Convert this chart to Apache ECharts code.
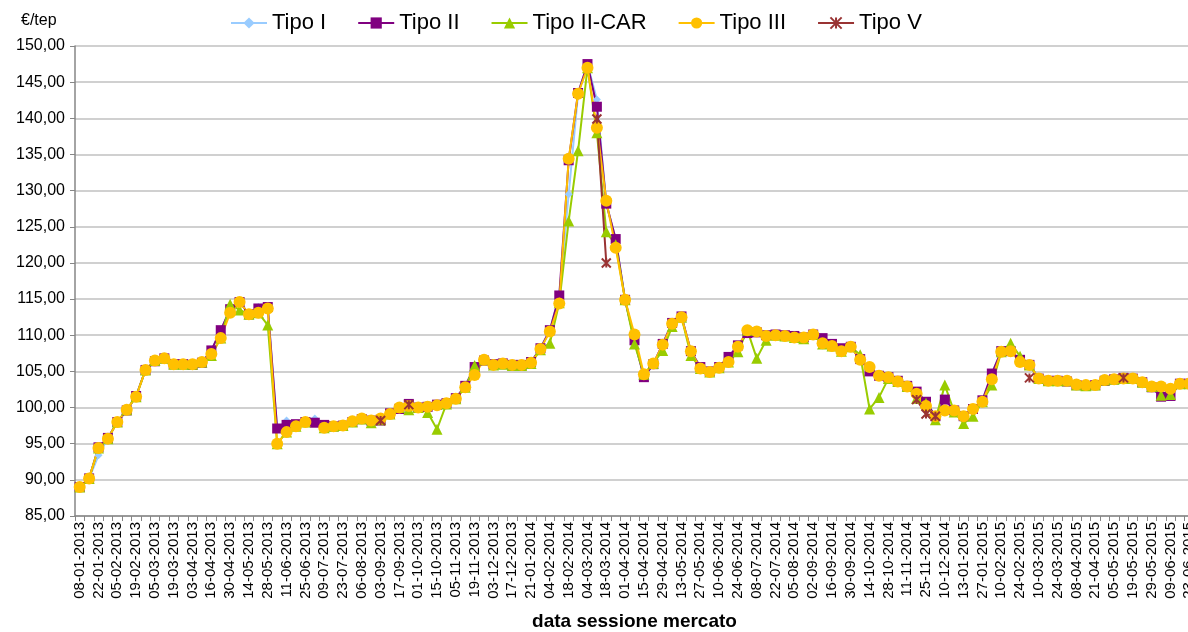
<!DOCTYPE html>
<html>
<head>
<meta charset="utf-8">
<title>Prezzi TEE per sessione</title>
<script src="https://cdn.jsdelivr.net/npm/echarts@6/dist/echarts.min.js"></script>
<style>
  html, body { margin: 0; padding: 0; background: #ffffff; }
  #chart { width: 1188px; height: 632px; }
</style>
</head>
<body>
<div id="chart"></div>
<script>
// Weekly market sessions (every other date is printed on the axis)
const sessions = [
  '08-01-2013','15-01-2013','22-01-2013','29-01-2013','05-02-2013','12-02-2013','19-02-2013','26-02-2013',
  '05-03-2013','12-03-2013','19-03-2013','26-03-2013','03-04-2013','09-04-2013','16-04-2013','23-04-2013',
  '30-04-2013','07-05-2013','14-05-2013','21-05-2013','28-05-2013','04-06-2013','11-06-2013','18-06-2013',
  '25-06-2013','02-07-2013','09-07-2013','16-07-2013','23-07-2013','30-07-2013','06-08-2013','27-08-2013',
  '03-09-2013','10-09-2013','17-09-2013','24-09-2013','01-10-2013','08-10-2013','15-10-2013','29-10-2013',
  '05-11-2013','12-11-2013','19-11-2013','26-11-2013','03-12-2013','10-12-2013','17-12-2013','14-01-2014',
  '21-01-2014','28-01-2014','04-02-2014','11-02-2014','18-02-2014','25-02-2014','04-03-2014','11-03-2014',
  '18-03-2014','25-03-2014','01-04-2014','08-04-2014','15-04-2014','22-04-2014','29-04-2014','06-05-2014',
  '13-05-2014','20-05-2014','27-05-2014','03-06-2014','10-06-2014','17-06-2014','24-06-2014','01-07-2014',
  '08-07-2014','15-07-2014','22-07-2014','29-07-2014','05-08-2014','26-08-2014','02-09-2014','09-09-2014',
  '16-09-2014','23-09-2014','30-09-2014','07-10-2014','14-10-2014','21-10-2014','28-10-2014','04-11-2014',
  '11-11-2014','18-11-2014','25-11-2014','02-12-2014','10-12-2014','16-12-2014','13-01-2015','20-01-2015',
  '27-01-2015','03-02-2015','10-02-2015','17-02-2015','24-02-2015','03-03-2015','10-03-2015','17-03-2015',
  '24-03-2015','31-03-2015','08-04-2015','14-04-2015','21-04-2015','28-04-2015','05-05-2015','12-05-2015',
  '19-05-2015','26-05-2015','29-05-2015','03-06-2015','09-06-2015','16-06-2015','23-06-2015'
];

// Average session price (€/tep) per certificate type
const tipoI = [
  89.0, 90.2, 93.4, 95.8, 98.0, 99.6, 101.6, 105.2, 106.4, 106.8,
  106.0, 106.0, 105.9, 106.2, 107.9, 110.7, 113.6, 114.6, 112.9, 113.9,
  113.9, 97.1, 98.2, 97.7, 98.0, 98.5, 97.6, 97.4, 97.5, 98.0,
  98.4, 98.2, 98.2, 99.2, 99.8, 100.5, 100.0, 100.1, 100.4, 100.6,
  101.3, 103.0, 105.6, 106.5, 106.0, 106.1, 105.9, 105.9, 106.3, 108.2,
  110.7, 115.5, 129.5, 143.4, 147.5, 142.6, 128.2, 123.3, 114.9, 109.3,
  104.2, 106.0, 108.8, 111.7, 112.6, 107.8, 105.6, 105.0, 105.6, 107.0,
  108.6, 110.3, 110.4, 110.0, 110.1, 110.0, 109.9, 109.7, 110.1, 109.6,
  108.8, 108.2, 108.4, 106.7, 105.0, 104.4, 104.2, 103.7, 103.0, 102.2,
  100.8, 98.8, 101.1, 99.6, 98.8, 99.8, 101.0, 104.7, 107.8, 107.8,
  106.6, 105.9, 104.0, 103.7, 103.7, 103.6, 103.1, 103.0, 103.1, 103.7,
  103.9, 104.1, 104.0, 103.5, 102.8, 101.6, 101.8, 103.3, 103.3
];
const tipoII = [
  89.0, 90.2, 94.5, 95.8, 98.0, 99.6, 101.6, 105.2, 106.4, 106.8,
  106.0, 106.0, 105.9, 106.2, 107.9, 110.7, 113.6, 114.6, 112.9, 113.7,
  113.9, 97.1, 97.6, 97.7, 98.0, 97.9, 97.6, 97.4, 97.5, 98.0,
  98.4, 98.2, 98.2, 99.2, 99.8, 100.5, 100.0, 100.1, 100.4, 100.6,
  101.3, 103.0, 105.6, 106.5, 106.0, 106.1, 105.9, 105.9, 106.3, 108.2,
  110.7, 115.5, 134.2, 143.5, 147.5, 141.6, 128.2, 123.3, 114.9, 109.3,
  104.2, 106.0, 108.8, 111.7, 112.6, 107.8, 105.6, 105.0, 105.6, 107.0,
  108.6, 110.3, 110.4, 110.0, 110.1, 110.0, 109.9, 109.7, 110.1, 109.6,
  108.8, 108.2, 108.4, 106.7, 105.0, 104.4, 104.2, 103.7, 103.0, 102.2,
  100.8, 98.8, 101.1, 99.6, 98.8, 99.8, 101.0, 104.7, 107.8, 107.8,
  106.6, 105.9, 104.0, 103.7, 103.7, 103.6, 103.1, 103.0, 103.1, 103.7,
  103.9, 104.1, 104.0, 103.5, 102.8, 101.5, 101.6, 103.3, 103.3
];
const tipoIICar = [
  89.0, 90.2, 94.4, 95.7, 98.0, 99.7, 101.5, 105.2, 106.5, 106.8,
  106.0, 106.0, 106.0, 106.3, 107.2, 109.6, 114.3, 113.5, 112.9, 113.1,
  111.4, 95.0, 96.6, 97.4, 98.0, null, 97.2, 97.4, 97.5, 98.0,
  98.4, 97.9, 98.3, 99.1, 100.0, 99.7, 100.0, 99.3, 97.0, 100.5,
  101.2, 102.8, 105.8, 106.6, 105.9, 106.0, 105.8, 105.8, 106.1, 108.0,
  108.9, 114.5, 125.8, 135.5, 147.0, 138.0, 124.3, 122.5, 114.9, 108.8,
  104.6, 106.1, 107.9, 111.2, 112.5, 107.2, 105.4, 104.9, 105.5, 106.3,
  107.7, 110.7, 106.8, 109.3, 110.0, 109.9, 109.7, 109.5, 110.1, 108.8,
  108.5, 107.8, 108.4, 107.3, 99.8, 101.4, 104.0, 103.6, 102.9, 101.3,
  100.6, 98.3, 103.1, 99.4, 97.8, 98.8, 100.8, 103.1, 107.7, 108.9,
  107.1, 105.9, 104.0, 103.7, 103.7, 103.7, 103.1, 103.0, 103.1, 103.8,
  103.9, 104.0, 104.0, 103.5, 102.9, 101.7, 101.8, 103.3, 103.3
];
const tipoIII = [
  89.0, 90.2, 94.4, 95.7, 98.0, 99.7, 101.5, 105.2, 106.5, 106.8,
  106.0, 106.0, 106.0, 106.3, 107.4, 109.6, 113.1, 114.6, 112.9, 113.1,
  113.7, 95.0, 96.6, 97.4, 98.0, null, 97.2, 97.4, 97.5, 98.1,
  98.5, 98.2, 98.5, 99.1, 100.0, 100.2, 100.0, 100.1, 100.3, 100.6,
  101.2, 102.8, 104.5, 106.6, 105.9, 106.1, 105.9, 105.9, 106.2, 108.1,
  110.5, 114.4, 134.4, 143.4, 147.0, 138.7, 128.6, 122.1, 114.9, 110.1,
  104.6, 106.1, 108.7, 111.6, 112.5, 107.8, 105.4, 104.9, 105.5, 106.3,
  108.4, 110.7, 110.5, 109.9, 110.0, 109.9, 109.7, 109.7, 110.1, 108.9,
  108.5, 107.8, 108.4, 106.6, 105.6, 104.4, 104.2, 103.6, 102.9, 101.9,
  100.2, 98.8, 99.6, 99.6, 98.8, 99.8, 100.8, 103.9, 107.7, 107.8,
  106.3, 105.9, 104.0, 103.7, 103.7, 103.7, 103.2, 103.1, 103.1, 103.8,
  103.9, 104.0, 104.0, 103.5, 102.9, 102.9, 102.6, 103.3, 103.3
];
const tipoV = [
  null, null, null, null, null, null, null, null, null, null,
  null, null, null, null, null, null, null, null, null, null,
  null, null, null, null, null, null, null, null, null, null,
  null, null, 98.2, null, null, 100.4, null, null, null, null,
  null, null, null, null, null, null, null, null, null, null,
  null, null, null, null, null, 139.9, 120.0, null, null, null,
  null, null, null, null, null, null, null, null, null, null,
  null, null, null, null, null, null, null, null, null, null,
  null, null, null, null, null, null, null, null, null, 101.1,
  99.1, 98.8, null, null, null, null, null, null, null, null,
  null, 104.1, null, null, null, null, null, null, null, null,
  null, 104.1, null, null, null, null, null, null, null
];

const yTicks = { min: 85, max: 150, step: 5 };
const FONT = 'Liberation Sans, Arial, sans-serif';

// Asterisk-style marker (X with a vertical stroke)
const starPath = 'path://M0,0L10,10M10,0L0,10M5,0L5,10';

function lineSeries(name, data, color, symbol, size, extra) {
  return Object.assign({
    name: name,
    type: 'line',
    data: data,
    symbol: symbol,
    symbolSize: size,
    showAllSymbol: true,
    connectNulls: false,
    lineStyle: { color: color, width: 2 },
    itemStyle: { color: color },
    emphasis: { disabled: true }
  }, extra || {});
}

const chart = echarts.init(document.getElementById('chart'), null, { renderer: 'canvas' });
chart.setOption({
  animation: false,
  backgroundColor: '#ffffff',
  textStyle: { fontFamily: FONT },
  title: {
    text: '€/tep',
    left: 16,
    top: 8,
    textStyle: { fontSize: 16, fontWeight: 'normal', color: '#000', fontFamily: FONT }
  },
  legend: {
    top: 7,
    left: 225,
    itemWidth: 36,
    itemHeight: 14,
    itemGap: 31,
    textStyle: { fontSize: 22, color: '#000', fontFamily: FONT },
    data: ['Tipo I', 'Tipo II', 'Tipo II-CAR', 'Tipo III', 'Tipo V']
  },
  grid: { left: 75, right: -6, top: 46, bottom: 116, outerBoundsMode: 'none' },
  xAxis: {
    type: 'category',
    data: sessions,
    boundaryGap: true,
    name: 'data sessione mercato',
    nameLocation: 'middle',
    nameGap: 96,
    nameTextStyle: { fontSize: 19, fontWeight: 'bold', color: '#000', fontFamily: FONT },
    axisLine: { lineStyle: { color: '#868686', width: 1.5 } },
    axisTick: { show: true, interval: 0, length: 5, lineStyle: { color: '#868686' } },
    axisLabel: {
      interval: 1,
      rotate: 90,
      margin: 6,
      fontSize: 15,
      color: '#000',
      fontFamily: FONT
    },
    splitLine: { show: false }
  },
  yAxis: {
    type: 'value',
    min: yTicks.min,
    max: yTicks.max,
    interval: yTicks.step,
    axisLine: { show: true, lineStyle: { color: '#868686', width: 1.5 } },
    axisTick: { show: true, length: 5, lineStyle: { color: '#868686' } },
    axisLabel: {
      fontSize: 16,
      color: '#000',
      margin: 10,
      fontFamily: FONT,
      formatter: function (v) { return v.toFixed(2).replace('.', ','); }
    },
    splitLine: { show: true, lineStyle: { color: '#c0c0c0', width: 1.5 } }
  },
  series: [
    lineSeries('Tipo I', tipoI, '#99ccff', 'diamond', 8),
    lineSeries('Tipo II', tipoII, '#800080', 'rect', 10),
    lineSeries('Tipo II-CAR', tipoIICar, '#99cc00', 'triangle', 11),
    lineSeries('Tipo III', tipoIII, '#ffc000', 'circle', 12),
    lineSeries('Tipo V', tipoV, '#993333', starPath, 9, {
      itemStyle: { color: '#993333', borderColor: '#993333', borderWidth: 2 }
    })
  ]
});
</script>
</body>
</html>
